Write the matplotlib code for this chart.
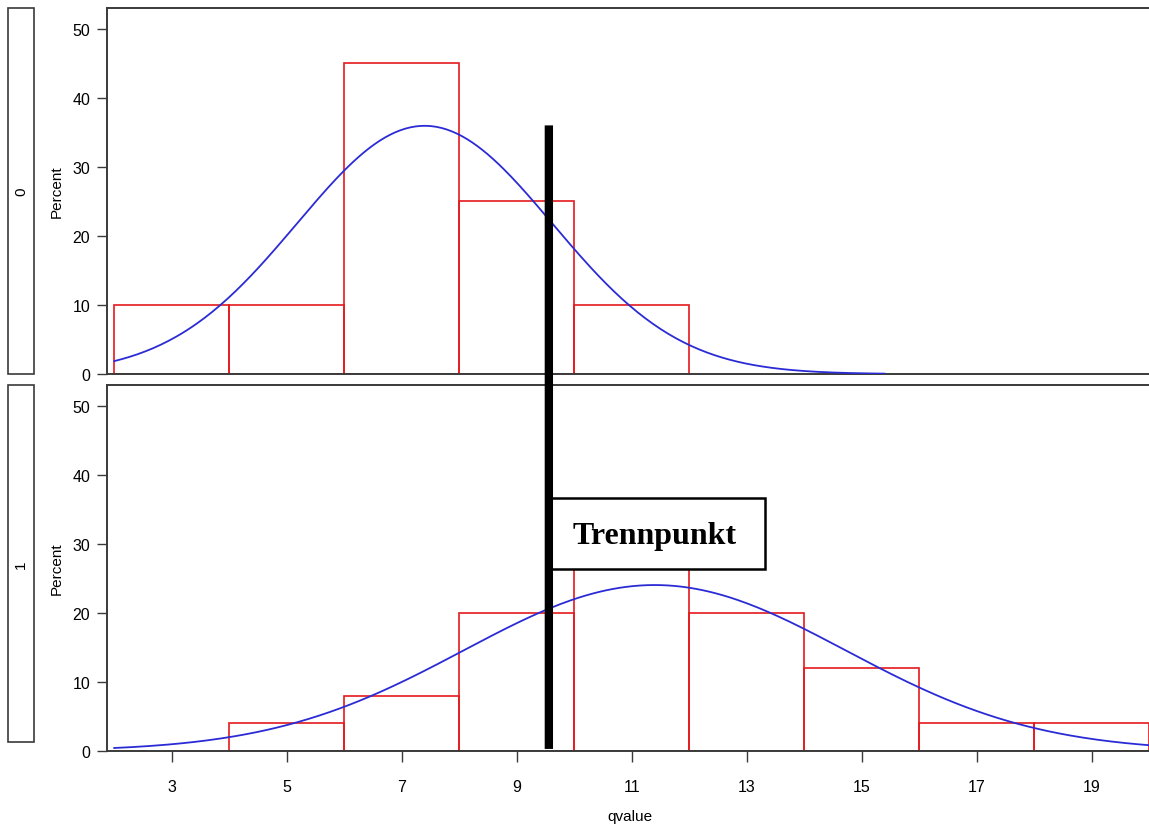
import numpy as np
import matplotlib
matplotlib.use("Agg")
import matplotlib.pyplot as plt
from matplotlib.patches import Rectangle, ConnectionPatch

plt.rcParams['font.family'] = ['Liberation Sans', 'DejaVu Sans']

# histogram data (percent per bin of width 2)
bin_left_0 = [2, 4, 6, 8, 10]
pct_0 = [10, 10, 45, 25, 10]
bin_left_1 = [4, 6, 8, 10, 12, 14, 16, 18]
pct_1 = [4, 8, 20, 28, 20, 12, 4, 4]
bin_width = 2

# fitted normal curves (mean, sd) and drawn range
mu_0, sd_0, xrange_0 = 7.4, 2.22, (2.0, 15.4)
mu_1, sd_1, xrange_1 = 11.4, 3.32, (2.0, 20.0)

cut_point = 9.56
xticks = [3, 5, 7, 9, 11, 13, 15, 17, 19]
yticks = [0, 10, 20, 30, 40, 50]
groups = ['0', '1']

W, H = 1149, 829
fig = plt.figure(figsize=(W / 100, H / 100), dpi=100)

def px_axes(l, t, r, b):
    return fig.add_axes([l / W, 1 - b / H, (r - l) / W, (b - t) / H])

ax0 = px_axes(107, 9, 1152, 375)
ax1 = px_axes(107, 386, 1152, 752)

red = '#e41a1c'
blue = '#2b2bd6'
spine_c = '#3a3a3a'

def normal_pct(x, mu, sd):
    return 100 * bin_width * np.exp(-0.5 * ((x - mu) / sd) ** 2) / (sd * np.sqrt(2 * np.pi))

for ax, lefts, pct, (mu, sd, xr) in [
        (ax0, bin_left_0, pct_0, (mu_0, sd_0, xrange_0)),
        (ax1, bin_left_1, pct_1, (mu_1, sd_1, xrange_1))]:
    ax.bar(lefts, pct, width=bin_width, align='edge', fill=False,
           edgecolor=red, linewidth=1.2, zorder=2)
    xs = np.linspace(xr[0], xr[1], 300)
    ax.plot(xs, normal_pct(xs, mu, sd), color=blue, linewidth=1.3, zorder=3)
    ax.set_xlim(1.875, 20.05)
    ax.set_ylim(0, 53)
    ax.set_yticks(yticks)
    ax.set_ylabel('Percent', fontsize=11, labelpad=6)
    ax.spines['right'].set_visible(False)
    for s in ['left', 'top', 'bottom']:
        ax.spines[s].set_color(spine_c)
        ax.spines[s].set_linewidth(1.4)
    ax.tick_params(axis='y', length=7, width=1, color=spine_c, labelsize=11.5, pad=5)
    ax.tick_params(axis='x', length=8, width=1, color=spine_c, labelsize=11.5, pad=12)

ax0.set_xticks([])
ax1.set_xticks(xticks)
ax1.set_xlabel('qvalue', fontsize=11, labelpad=11)

# strip labels on the left
for (t, b), g in zip([(9, 375), (386, 743)], groups):
    fig.add_artist(Rectangle((8 / W, 1 - b / H), 26 / W, (b - t) / H,
                             transform=fig.transFigure, fill=False,
                             edgecolor=spine_c, linewidth=1.2))
    fig.text(21 / W, 1 - (t + b) / 2 / H, g, rotation=90, ha='center',
             va='center', fontsize=11)

# cut point line spanning both panels
con = ConnectionPatch(xyA=(cut_point, 36.0), coordsA=ax0.transData,
                      xyB=(cut_point, 0.3), coordsB=ax1.transData,
                      color='black', linewidth=6, capstyle='butt', zorder=10)
fig.add_artist(con)

# label box
ax1.add_patch(Rectangle((9.56, 26.3), 3.76, 10.3, facecolor='white',
                        edgecolor='black', linewidth=1.8, zorder=5, clip_on=False))
ax1.text(11.4, 30.1, 'Trennpunkt', ha='center', va='baseline',
         family=['Liberation Serif', 'DejaVu Serif'], fontweight='bold',
         fontsize=23, zorder=6)

fig.savefig('out.png', dpi=100)
